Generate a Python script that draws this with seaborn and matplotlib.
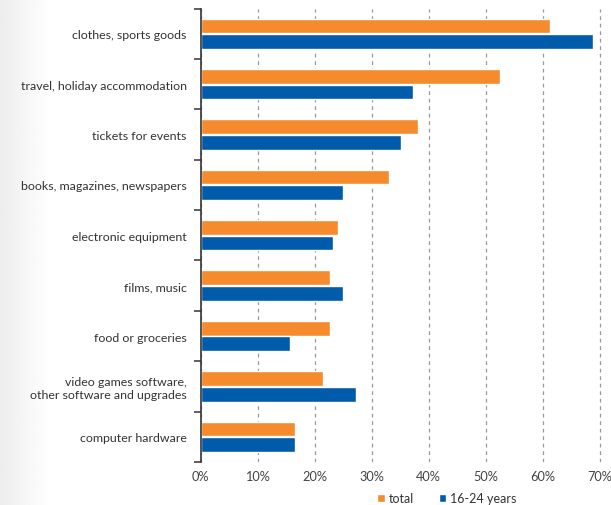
import matplotlib
matplotlib.use("Agg")
import matplotlib.pyplot as plt
import seaborn as sns
import pandas as pd
import numpy as np
from matplotlib.ticker import FixedLocator, FuncFormatter

categories = [
    "clothes, sports goods",
    "travel, holiday accommodation",
    "tickets for events",
    "books, magazines, newspapers",
    "electronic equipment",
    "films, music",
    "food or groceries",
    "video games software,\nother software and upgrades",
    "computer hardware",
]
total = [61.3, 52.6, 38.1, 33.1, 24.1, 22.7, 22.7, 21.5, 16.6]
young = [68.9, 37.2, 35.1, 25.0, 23.2, 25.0, 15.7, 27.3, 16.6]
series_names = ["total", "16-24 years"]
x_ticks = [0, 10, 20, 30, 40, 50, 60, 70]

df = pd.DataFrame({
    "category": categories * 2,
    "value": total + young,
    "series": [series_names[0]] * len(categories) + [series_names[1]] * len(categories),
})

sns.set_theme(style="white")
plt.rcParams["font.family"] = ["Lato", "DejaVu Sans"]

fig = plt.figure(figsize=(6.11, 5.06), dpi=100)
# subtle gray gradient at left edge
grad = np.linspace(0.93, 1.0, 60)[None, :]
bg = fig.add_axes([0, 0, 50 / 611, 1], zorder=-10)
bg.imshow(np.repeat(grad, 2, axis=0), aspect="auto", cmap="gray", vmin=0, vmax=1,
          extent=[0, 1, 0, 1])
bg.axis("off")

ax = fig.add_axes([200.7 / 611, 1 - 463 / 506, 1 - 200.7 / 611, (463 - 9.5) / 506])
sns.barplot(data=df, y="category", x="value", hue="series", orient="h",
            palette=["#F68B2E", "#005BAA"], width=0.62, gap=0.06,
            saturation=1, ax=ax, legend=True)

ax.set_xlim(0, 72)
ax.set_ylim(len(categories) - 0.5, -0.5)
ax.set_xlabel("")
ax.set_ylabel("")

ax.xaxis.set_major_locator(FixedLocator(x_ticks))
ax.xaxis.set_major_formatter(FuncFormatter(lambda v, p: f"{int(v)}%"))
ax.grid(axis="x", linestyle=(0, (3, 3)), color="#999999", linewidth=0.9)
ax.set_axisbelow(True)
ax.tick_params(axis="x", length=0, pad=6, labelsize=9.2, colors="#444444")

ax.tick_params(axis="y", which="major", length=0, pad=10, labelsize=8.9, labelcolor="#333333")
ax.yaxis.set_minor_locator(FixedLocator(np.arange(-0.5, len(categories), 1.0)))
ax.tick_params(axis="y", which="minor", length=5, width=1.2, color="#444444", left=True)
for lbl in ax.get_yticklabels():
    lbl.set_horizontalalignment("right")

for s in ["top", "right", "bottom"]:
    ax.spines[s].set_visible(False)
ax.spines["left"].set_color("#333333")
ax.spines["left"].set_linewidth(1.2)

handles, labels = ax.get_legend_handles_labels()
ax.legend(handles, labels, loc="center", bbox_to_anchor=(0.60, -0.08),
          ncol=2, frameon=False, fontsize=9, handlelength=0.6, handleheight=0.6,
          handletextpad=0.3, columnspacing=2.0, labelcolor="#333333")

fig.savefig("out.png", dpi=100)
